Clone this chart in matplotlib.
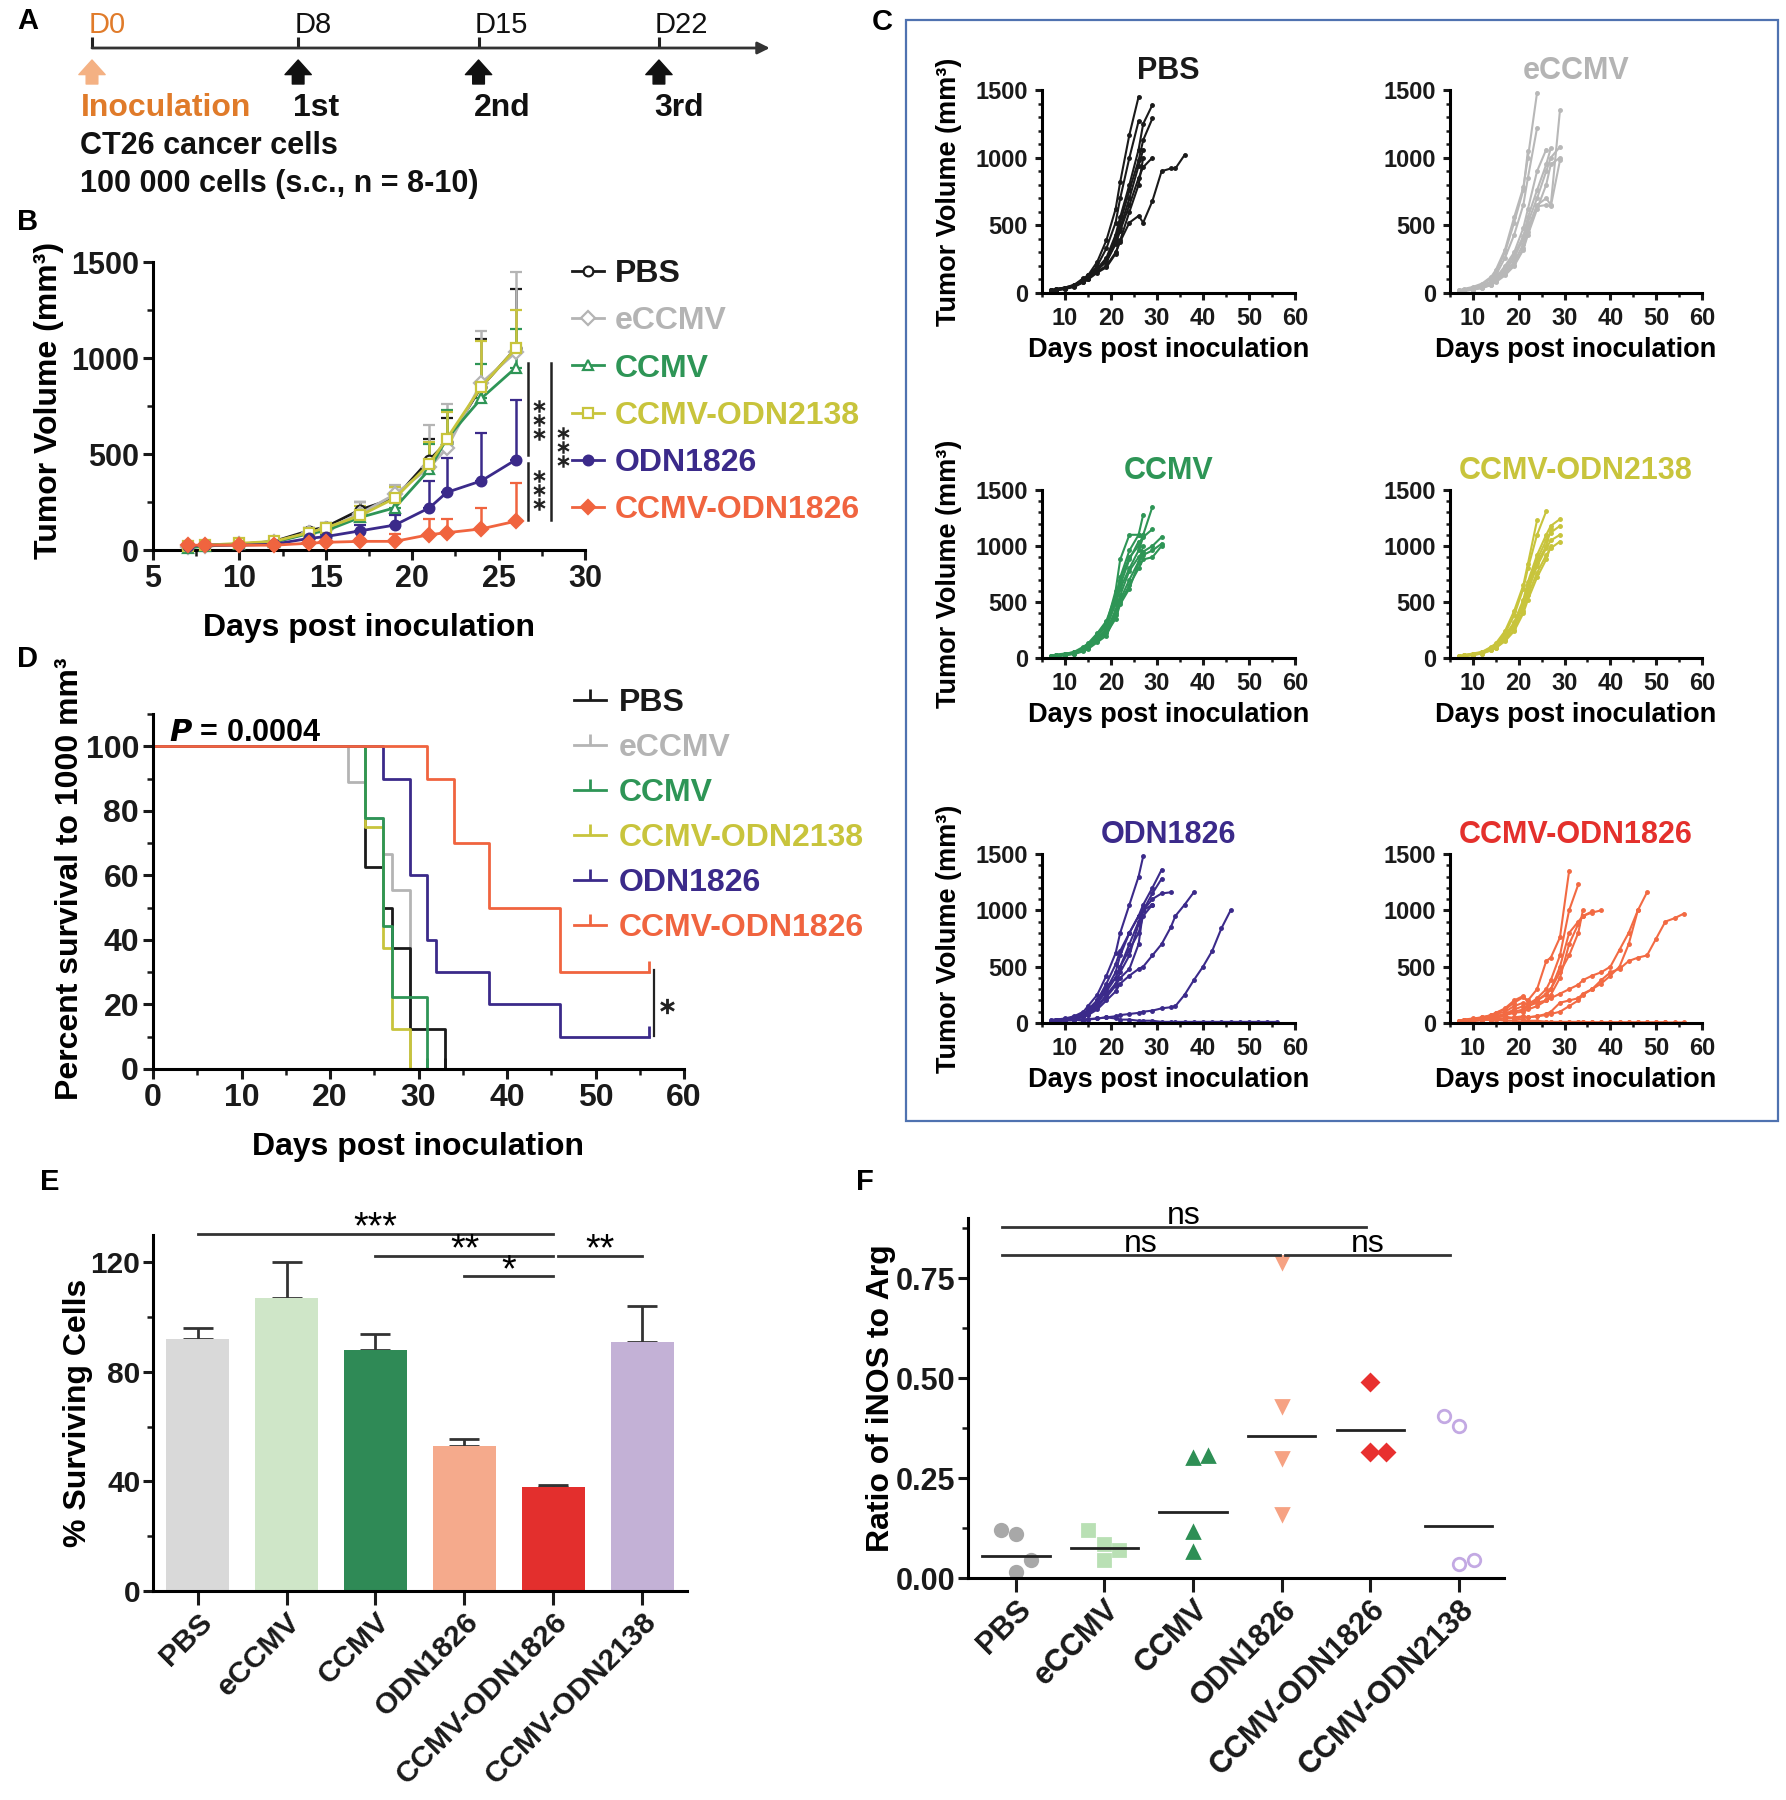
import matplotlib
matplotlib.use('Agg')
import matplotlib.pyplot as plt
from matplotlib.patches import Rectangle
from matplotlib.lines import Line2D
from matplotlib.ticker import MultipleLocator

plt.rcParams['font.family'] = ['Liberation Sans', 'DejaVu Sans']
plt.rcParams['font.weight'] = 'bold'
plt.rcParams['axes.labelweight'] = 'bold'
plt.rcParams['axes.linewidth'] = 2.2
for a in ('xtick', 'ytick'):
    plt.rcParams[a + '.major.width'] = 2.2
    plt.rcParams[a + '.minor.width'] = 1.8
    plt.rcParams[a + '.major.size'] = 7
    plt.rcParams[a + '.minor.size'] = 4
    plt.rcParams[a + '.color'] = '#1a1a1a'

W, H = 1786, 1800

# ---------------- data ----------------
groups = ['PBS', 'eCCMV', 'CCMV', 'CCMV-ODN2138', 'ODN1826', 'CCMV-ODN1826']
colors = ['#1a1a1a', '#b4b4b4', '#2e9556', '#c8c43c', '#3b2a8a', '#f0643f']

# panel A
treat_days = [8, 15, 22]
treat_labels = ['1st', '2nd', '3rd']

# panel B : mean tumour volume, upper SEM
b_days = [7, 8, 10, 12, 14, 15, 17, 19, 21, 22, 24, 26]
b_mean = {
    'PBS':          [20, 25, 30, 45, 100, 120, 210, 270, 470, 560, 850, 1050],
    'eCCMV':        [15, 20, 30, 40, 90, 110, 190, 290, 430, 530, 870, 1030],
    'CCMV':         [10, 20, 30, 40, 85, 100, 170, 220, 420, 580, 790, 950],
    'CCMV-ODN2138': [20, 25, 35, 45, 90, 115, 180, 270, 450, 580, 850, 1050],
    'ODN1826':      [20, 25, 25, 30, 60, 70, 100, 130, 220, 300, 360, 470],
    'CCMV-ODN1826': [25, 25, 25, 25, 35, 40, 45, 45, 80, 90, 110, 150],
}
b_sem = {
    'PBS':          [5, 5, 8, 10, 15, 20, 40, 60, 110, 130, 250, 310],
    'eCCMV':        [5, 5, 8, 10, 20, 25, 60, 50, 220, 230, 270, 420],
    'CCMV':         [5, 5, 5, 8, 15, 20, 40, 40, 130, 150, 180, 200],
    'CCMV-ODN2138': [5, 5, 8, 10, 15, 20, 50, 60, 110, 140, 240, 200],
    'ODN1826':      [5, 5, 5, 5, 10, 15, 30, 50, 140, 180, 250, 310],
    'CCMV-ODN1826': [5, 5, 5, 5, 5, 8, 10, 40, 80, 70, 110, 200],
}
# significance: (x, y0, y1) lines and (x, y_center) star stacks
b_sig_lines = [(26.7, 495, 974), (26.7, 156, 453), (28.03, 156, 974)]
b_sig_stars = [(27.34, 677), (27.34, 312), (28.73, 536)]

# panel C : individual mice
c_days = [7, 8, 10, 12, 14, 15, 17, 19, 21, 22, 24, 26, 27, 29, 31, 33, 34, 36,
          38, 40, 42, 44, 46, 48, 50, 52, 54, 56]
c_mice = {
    'PBS': [
        [20, 30, 40, 60, 110, 130, 230, 390, 620, 820, 1170, 1450],
        [15, 25, 35, 55, 100, 120, 200, 330, 520, 700, 1000, 1270],
        [20, 25, 40, 60, 100, 120, 180, 260, 430, 560, 800, 1060, 1250, 1390],
        [10, 20, 30, 50, 90, 110, 170, 250, 400, 520, 760, 980, 1130, 1290],
        [15, 20, 35, 55, 100, 130, 190, 230, 360, 460, 650, 850, 930, 1000],
        [20, 30, 40, 50, 80, 100, 160, 200, 300, 380, 520, 570, 520, 680, 900, 920, 920, 1020],
        [10, 20, 30, 45, 80, 100, 150, 190, 290, 390, 600, 800, 1000],
        [20, 25, 35, 50, 90, 110, 170, 230, 380, 480, 700, 940, 1060],
    ],
    'eCCMV': [
        [15, 25, 40, 60, 110, 150, 300, 520, 760, 1050],
        [20, 30, 45, 70, 120, 170, 320, 560, 780, 1000, 1480],
        [10, 20, 35, 50, 90, 130, 260, 430, 650, 850, 1220],
        [10, 20, 30, 45, 80, 110, 200, 300, 480, 620, 900, 1060],
        [15, 25, 35, 50, 80, 100, 180, 280, 420, 560, 760, 950, 1070],
        [10, 15, 25, 40, 60, 90, 150, 230, 360, 480, 650, 700, 650, 1350],
        [15, 20, 30, 45, 70, 100, 160, 260, 400, 520, 700, 900, 1000, 1080],
        [10, 15, 25, 35, 60, 80, 130, 200, 320, 430, 620, 800, 950, 1000],
        [20, 25, 35, 45, 70, 90, 140, 210, 330, 450, 640, 650, 640, 980],
    ],
    'CCMV': [
        [10, 20, 30, 45, 80, 100, 180, 260, 520, 720, 960, 1100, 1280],
        [15, 25, 35, 50, 90, 120, 200, 300, 600, 880, 1100, 1100, 1100],
        [20, 25, 35, 55, 100, 130, 220, 330, 560, 700, 900, 1000, 1100, 1350],
        [10, 20, 30, 45, 80, 110, 200, 280, 480, 620, 800, 960, 1080, 1150],
        [10, 15, 25, 40, 70, 100, 160, 240, 430, 560, 780, 900, 950, 1000, 1080],
        [15, 20, 30, 45, 80, 100, 170, 240, 400, 520, 700, 860, 920, 960, 1020],
        [5, 15, 25, 35, 60, 80, 140, 200, 380, 500, 650, 800, 880, 900, 1000],
        [10, 20, 30, 40, 70, 90, 150, 220, 350, 480, 620, 850, 1000],
        [20, 30, 40, 50, 90, 120, 210, 320, 520, 650, 880, 1040],
    ],
    'CCMV-ODN2138': [
        [10, 20, 35, 50, 90, 120, 220, 380, 620, 800, 1100, 1310],
        [15, 25, 40, 55, 100, 130, 240, 420, 650, 840, 1230],
        [10, 20, 30, 45, 80, 110, 200, 320, 520, 680, 920, 1100, 1180, 1240],
        [15, 25, 35, 50, 90, 110, 190, 300, 500, 650, 880, 1050, 1120, 1180],
        [10, 20, 30, 45, 80, 100, 170, 280, 460, 600, 820, 980, 1050, 1100],
        [10, 15, 25, 40, 70, 90, 160, 250, 420, 560, 760, 920, 980, 1040],
        [20, 25, 35, 50, 90, 110, 190, 300, 480, 640, 850, 1000, 1150],
        [10, 20, 30, 40, 70, 90, 150, 240, 400, 520, 720, 880, 1000],
    ],
    'ODN1826': [
        [20, 30, 40, 60, 100, 150, 250, 420, 620, 800, 1050, 1300, 1480],
        [15, 25, 35, 50, 80, 120, 200, 350, 520, 640, 800, 950, 1050, 1200, 1360],
        [10, 20, 30, 45, 70, 100, 170, 300, 450, 600, 800, 950, 1000, 1150, 1280],
        [20, 25, 35, 50, 80, 110, 180, 280, 400, 500, 700, 900, 1000, 1100, 1150, 1160],
        [10, 20, 30, 40, 60, 90, 150, 250, 350, 450, 600, 880, 1000, 1050],
        [15, 20, 30, 40, 60, 80, 140, 230, 330, 400, 480, 700, 1000],
        [10, 15, 25, 35, 50, 70, 120, 200, 280, 350, 420, 480, 500, 600, 700, 850, 950, 1050, 1160],
        [10, 15, 20, 25, 30, 35, 40, 50, 60, 70, 80, 90, 100, 110, 130, 140, 150, 250, 380, 500, 640, 840, 1000],
        [30, 30, 30, 30, 20, 30, 40, 50, 40, 30, 30, 20, 20, 20, 10, 10, 10, 10, 10, 10, 10, 10, 10, 10, 10, 10, 10, 10],
        [20, 30, 35, 50, 80, 110, 200, 320, 400, 500, 650, 800, 950, 1050],
    ],
    'CCMV-ODN1826': [
        [20, 30, 40, 50, 70, 90, 120, 180, 230, 200, 300, 550, 580, 760, 1350],
        [15, 25, 30, 40, 60, 80, 100, 150, 180, 160, 220, 300, 380, 600, 1000, 1230],
        [10, 20, 30, 40, 50, 60, 80, 120, 150, 140, 200, 260, 300, 500, 800, 900, 950, 990],
        [10, 15, 25, 30, 40, 50, 70, 90, 100, 120, 150, 200, 250, 400, 700, 880, 950, 980, 1000],
        [10, 15, 20, 25, 30, 35, 40, 50, 60, 50, 60, 80, 100, 180, 200, 220, 260, 300, 350, 420, 500, 700, 1000, 1160],
        [10, 15, 20, 25, 30, 35, 40, 45, 50, 50, 60, 70, 80, 100, 150, 200, 250, 300, 380, 450, 480, 550, 580, 600, 750, 900, 930, 970],
        [15, 20, 30, 40, 50, 60, 80, 100, 120, 150, 180, 200, 220, 260, 300, 340, 380, 420, 450, 500, 650, 800, 1000],
        [20, 30, 30, 40, 40, 50, 60, 40, 30, 20, 20, 10, 10, 10, 10, 10, 10, 5, 5, 5, 5, 5, 5, 5, 5, 5, 5, 5],
        [10, 20, 20, 30, 30, 30, 20, 20, 10, 10, 10, 10, 5, 5, 5, 5, 5, 5, 5, 5, 5, 5, 5, 5, 5, 5],
        [20, 25, 35, 50, 70, 90, 130, 200, 240, 180, 200, 250, 300, 450, 600, 800, 1000],
    ],
}
c_order = ['PBS', 'eCCMV', 'CCMV', 'CCMV-ODN2138', 'ODN1826', 'CCMV-ODN1826']
c_title_colors = ['#1a1a1a', '#b4b4b4', '#2e9556', '#c8c43c', '#3b2a8a', '#e4302c']
c_line_colors = ['#1a1a1a', '#b8b8b8', '#2e9556', '#c8c43c', '#3b2a8a', '#f26a43']

# panel D : Kaplan-Meier
surv_t = {
    'PBS':          [0, 24, 26, 27, 29, 33],
    'eCCMV':        [0, 22, 24, 26, 27, 29],
    'CCMV':         [0, 24, 26, 27, 31],
    'CCMV-ODN2138': [0, 24, 26, 27, 29],
    'ODN1826':      [0, 26, 29, 31, 32, 38, 46, 56],
    'CCMV-ODN1826': [0, 31, 34, 38, 46, 56],
}
surv_p = {
    'PBS':          [100, 62.5, 50, 37.5, 12.5, 0],
    'eCCMV':        [100, 88.9, 77.8, 66.7, 55.6, 0],
    'CCMV':         [100, 77.8, 44.4, 22.2, 0],
    'CCMV-ODN2138': [100, 75, 37.5, 12.5, 0],
    'ODN1826':      [100, 90, 60, 40, 30, 20, 10, 10],
    'CCMV-ODN1826': [100, 90, 70, 50, 30, 30],
}

# panel E
e_groups = ['PBS', 'eCCMV', 'CCMV', 'ODN1826', 'CCMV-ODN1826', 'CCMV-ODN2138']
e_vals = [92, 107, 88, 53, 38, 91]
e_err = [4, 13, 6, 2.5, 0.7, 13]
e_colors = ['#d9d9d9', '#cfe6c8', '#2f8a56', '#f5aa8c', '#e32f2d', '#c3b1d6']
e_sig = [(0, 4, 130.5, '***'), (2, 4, 122.5, '**'), (3, 4, 115, '*'), (4.05, 5, 122.5, '**')]

# panel F
f_vals = [
    [0.12, 0.11, 0.045, 0.015],
    [0.12, 0.085, 0.07, 0.045],
    [0.30, 0.305, 0.115, 0.065],
    [0.79, 0.43, 0.30, 0.16],
    [0.49, 0.315, 0.315],
    [0.405, 0.38, 0.035, 0.045],
]
f_jit = [
    [-0.17, 0, 0.17, 0],
    [-0.18, 0, 0.17, 0],
    [0, 0.17, 0, 0],
    [0, 0, 0, 0],
    [0, 0, 0.18],
    [-0.17, 0, 0, 0.17],
]
f_mean = [0.055, 0.075, 0.165, 0.355, 0.37, 0.13]
f_marker = ['o', 's', '^', 'v', 'D', 'o']
f_colors = ['#a8a8a8', '#b9e0b4', '#2e8f55', '#f6a283', '#e8302f', '#c3a9e3']
f_sig = [(-0.16, 3.95, 0.877, 'ns'), (-0.16, 2.98, 0.807, 'ns'), (3.04, 4.9, 0.807, 'ns')]


def px_axes(x0, y0, x1, y1):
    return fig.add_axes([x0 / W, 1 - y1 / H, (x1 - x0) / W, (y1 - y0) / H])


def gp_style(ax, tick=22, pad=3):
    ax.spines['top'].set_visible(False)
    ax.spines['right'].set_visible(False)
    ax.tick_params(labelsize=tick, pad=pad)
    for lab in ax.get_xticklabels() + ax.get_yticklabels():
        lab.set_fontweight('bold')


fig = plt.figure(figsize=(W / 100, H / 100), dpi=100)

# panel letters
for letter, (x, y) in zip('ABCDEF', [(17, 21), (17, 222), (872, 22), (17, 659), (40, 1182), (856, 1182)]):
    fig.text(x / W, 1 - y / H, letter, fontsize=21, ha='left', va='center')

# ---------------- A ----------------
axA = px_axes(0, 0, 900, 215)
axA.set_xlim(-92 / 25.77, (900 - 92) / 25.77)
axA.set_ylim(215, 0)
axA.axis('off')
axA.annotate('', xy=(26.3, 48), xytext=(0, 48),
             arrowprops=dict(arrowstyle='-|>', lw=2, color='#333333', mutation_scale=18,
                             shrinkA=0, shrinkB=0))
axA.vlines([0] + treat_days, 37, 48, color='#222222', lw=2.2)
axA.text(-0.15, 39, 'D0', color='#e07b2a', fontsize=21, fontweight='normal', ha='left', va='bottom')
for d in treat_days:
    axA.text(d - 0.15, 39, f'D{d}', color='#111111', fontsize=21, fontweight='normal',
             ha='left', va='bottom')
arrow_style = 'simple,head_width=0.9,head_length=0.5,tail_width=0.4'
axA.annotate('', xy=(0, 60), xytext=(0, 84),
             arrowprops=dict(arrowstyle=arrow_style, color='#f4b183', mutation_scale=21,
                             shrinkA=0, shrinkB=0))
for d in treat_days:
    axA.annotate('', xy=(d, 60), xytext=(d, 84),
                 arrowprops=dict(arrowstyle=arrow_style, color='#111111', mutation_scale=21,
                                 shrinkA=0, shrinkB=0))
axA.text(-0.45, 108, 'Inoculation', color='#e07b2a', fontsize=23, ha='left', va='center')
for d, lab in zip(treat_days, treat_labels):
    axA.text(d - 0.2, 108, lab, color='#111111', fontsize=23, ha='left', va='center')
axA.text(-0.45, 146, 'CT26 cancer cells', color='#111111', fontsize=22, ha='left', va='center')
axA.text(-0.45, 184, '100 000 cells (s.c., n = 8-10)', color='#111111', fontsize=22,
         ha='left', va='center')

# ---------------- B ----------------
axB = px_axes(153, 262, 585, 550)
b_markers = ['o', 'D', '^', 's', 'o', 'D']
b_fill = ['none', 'none', 'none', 'none', 'full', 'full']
for g, c, m, f in zip(groups, colors, b_markers, b_fill):
    axB.errorbar(b_days, b_mean[g], yerr=[[0] * len(b_days), b_sem[g]], color=c, lw=2,
                 marker=m, ms=7, mfc='white' if f == 'none' else c, mec=c, mew=1.6,
                 capsize=4, elinewidth=1.8, capthick=1.8, clip_on=False, zorder=3)
axB.set_xlim(5, 30)
axB.set_ylim(0, 1500)
axB.xaxis.set_major_locator(MultipleLocator(5))
axB.yaxis.set_major_locator(MultipleLocator(500))
axB.xaxis.set_minor_locator(MultipleLocator(2.5))
axB.yaxis.set_minor_locator(MultipleLocator(250))
axB.set_xlabel('Days post inoculation', fontsize=23, labelpad=14)
axB.set_ylabel('Tumor Volume (mm³)', fontsize=23)
axB.yaxis.set_label_coords(-0.205, 0.52)
gp_style(axB, 22)
for x, y0, y1 in b_sig_lines:
    axB.plot([x, x], [y0, y1], color='#222', lw=1.8, clip_on=False)
for x, y in b_sig_stars:
    axB.plot([x, x, x], [y - 73, y, y + 73], ls='none', marker=r'$\ast$', ms=9, mew=0,
             color='#222222', clip_on=False)
handles = [Line2D([], [], color=c, lw=2, marker=m, ms=7, mfc='white' if f == 'none' else c,
                  mec=c, mew=1.6) for c, m, f in zip(colors, b_markers, b_fill)]
leg = axB.legend(handles, groups, loc='upper left', bbox_to_anchor=(572 / W, 1 - 259 / H),
                 bbox_transform=fig.transFigure, frameon=False, fontsize=23, handlelength=1.0,
                 handletextpad=0.35, labelspacing=0.54, borderpad=0, borderaxespad=0)
for t, c in zip(leg.get_texts(), colors):
    t.set_color(c)

# ---------------- C ----------------
boxC = Rectangle((906 / W, 1 - 1121 / H), (1778 - 906) / W, (1121 - 20) / H,
                 transform=fig.transFigure, fill=False, ec='#4f72b0', lw=1.6)
fig.add_artist(boxC)
c_cols = [(1042, 1295), (1450, 1702)]
c_rows = [(90, 293), (490, 658), (854, 1023)]
for i, g in enumerate(c_order):
    r, col = divmod(i, 2)
    ax = px_axes(c_cols[col][0], c_rows[r][0], c_cols[col][1], c_rows[r][1])
    for v in c_mice[g]:
        ax.plot(c_days[:len(v)], v, '-o', color=c_line_colors[i], lw=1.5, ms=2.5, clip_on=False)
    ax.set_xlim(5, 60)
    ax.set_ylim(0, 1500)
    ax.set_xticks([10, 20, 30, 40, 50, 60])
    ax.xaxis.set_minor_locator(MultipleLocator(5))
    ax.yaxis.set_major_locator(MultipleLocator(500))
    ax.yaxis.set_minor_locator(MultipleLocator(100))
    ax.tick_params(which='both', length=5)
    ax.tick_params(which='minor', length=3)
    ax.set_title(g, color=c_title_colors[i], fontsize=22, fontweight='bold', pad=8)
    ax.set_xlabel('Days post inoculation', fontsize=19.5, labelpad=5)
    if col == 0:
        ax.set_ylabel('Tumor Volume (mm³)', fontsize=19.5, labelpad=10)
    gp_style(ax, 17, pad=5)

# ---------------- D ----------------
axD = px_axes(153, 714, 684, 1069)
d_order = ['eCCMV', 'PBS', 'CCMV-ODN2138', 'CCMV', 'ODN1826', 'CCMV-ODN1826']
for g in d_order:
    c = colors[groups.index(g)]
    axD.step(surv_t[g], surv_p[g], where='post', color=c, lw=2, clip_on=False)
    axD.plot(surv_t[g][-1], surv_p[g][-1], marker=2, ms=8, mew=2, color=c, clip_on=False)
axD.set_xlim(0, 60)
axD.set_ylim(0, 110)
axD.set_yticks([0, 20, 40, 60, 80, 100])
axD.xaxis.set_major_locator(MultipleLocator(10))
axD.xaxis.set_minor_locator(MultipleLocator(5))
axD.yaxis.set_minor_locator(MultipleLocator(10))
axD.set_xlabel('Days post inoculation', fontsize=23, labelpad=14)
axD.set_ylabel('Percent survival to 1000 mm³', fontsize=23)
axD.yaxis.set_label_coords(-0.128, 0.535)
gp_style(axD, 23)
axD.text(1.8, 104, r'$\bfit{P}$ = 0.0004', fontsize=22, ha='left', va='center')
axD.plot([56.6, 56.6], [10.1, 30.7], color='#222', lw=1.6, clip_on=False)
axD.plot(58.1, 19.5, ls='none', marker=r'$\ast$', ms=11, mew=0, color='#222222', clip_on=False)
dh = [Line2D([], [], color=c, lw=2, marker=2, ms=8, mew=2) for c in colors]
legD = axD.legend(dh, groups, loc='upper left', bbox_to_anchor=(574 / W, 1 - 688 / H),
                  bbox_transform=fig.transFigure, frameon=False, fontsize=23, handlelength=1.0,
                  handletextpad=0.4, labelspacing=0.47, borderpad=0, borderaxespad=0,
                  numpoints=1)
for t, c in zip(legD.get_texts(), colors):
    t.set_color(c)

# ---------------- E ----------------
axE = px_axes(153, 1235, 687, 1591)
xs = list(range(len(e_groups)))
axE.bar(xs, e_vals, width=0.7, color=e_colors, zorder=2)
axE.errorbar(xs, e_vals, yerr=[[0] * len(xs), e_err], fmt='none', ecolor='#333333',
             elinewidth=2, capsize=11, capthick=2, zorder=1)
axE.set_xlim(-0.5, 5.5)
axE.set_ylim(0, 130)
axE.set_yticks([0, 40, 80, 120])
axE.yaxis.set_minor_locator(MultipleLocator(20))
axE.set_xticks(xs)
axE.set_xticklabels(e_groups, rotation=45, ha='right', rotation_mode='anchor', fontsize=23.5)
axE.set_ylabel('% Surviving Cells', fontsize=23)
axE.yaxis.set_label_coords(-0.112, 0.5)
gp_style(axE, 21.5, pad=2)
axE.tick_params(axis='x', length=10)
for x1, x2, y, lab in e_sig:
    axE.plot([x1, x2], [y, y], color='#333', lw=2, clip_on=False)
    axE.text((x1 + x2) / 2, y - 1.8, lab, fontsize=27, fontweight='normal', ha='center',
             va='baseline', clip_on=False)

# ---------------- F ----------------
axF = px_axes(968, 1218, 1504, 1578)
for i, vals in enumerate(f_vals):
    xsF = [i + j for j in f_jit[i]]
    open_m = i == 5
    axF.plot(xsF, vals, ls='none', marker=f_marker[i], ms=9 if f_marker[i] != 'D' else 8,
             mfc='none' if open_m else f_colors[i], mec=f_colors[i], mew=2, clip_on=False)
    axF.plot([i - 0.38, i + 0.38], [f_mean[i], f_mean[i]], color='#222', lw=2)
axF.set_xlim(-0.54, 5.51)
axF.set_ylim(0, 0.9)
axF.set_yticks([0, 0.25, 0.5, 0.75])
axF.set_yticklabels(['0.00', '0.25', '0.50', '0.75'])
axF.yaxis.set_minor_locator(MultipleLocator(0.125))
axF.set_xticks(range(6))
axF.set_xticklabels(e_groups, rotation=45, ha='right', rotation_mode='anchor', fontsize=24)
axF.set_ylabel('Ratio of iNOS to Arg', fontsize=23)
axF.yaxis.set_label_coords(-0.135, 0.5)
gp_style(axF, 22, pad=2)
axF.tick_params(axis='x', length=10)
for x1, x2, y, lab in f_sig:
    axF.plot([x1, x2], [y, y], color='#333', lw=2, clip_on=False)
    axF.text((x1 + x2) / 2, y + 0.008, lab, fontsize=23, fontweight='normal', ha='center',
             va='baseline', clip_on=False)

fig.savefig('out.png', dpi=100)
